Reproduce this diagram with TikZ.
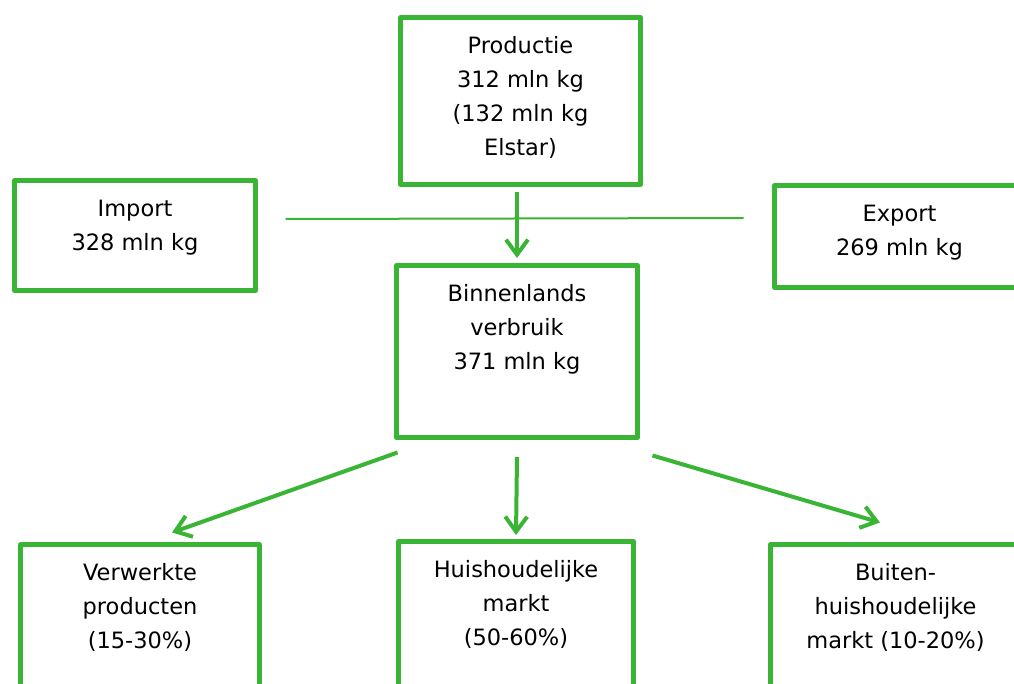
\documentclass[tikz,border=0pt]{standalone}
\usepackage{fontspec}
\setmainfont{DejaVu Sans}
\usetikzlibrary{arrows.meta,positioning}
\definecolor{appelgroen}{RGB}{58,180,52}
\tikzset{
  box/.style={draw=appelgroen, line width=5pt, line join=round, minimum width=240pt, minimum height=110pt, inner sep=0pt},
  txt/.style={align=center, inner sep=0pt, font=\fontsize{22.5}{34}\selectfont},
  pijl/.style={draw=appelgroen, line width=4pt, -{Straight Barb[length=15pt,width=22pt]}},
}
\begin{document}
\begin{tikzpicture}[x=1pt,y=-1pt]
\useasboundingbox (0,0) rectangle (1014,684);
\clip (0,0) rectangle (1014,684);

% bovenste rij
\node[box, minimum height=167pt] (prod) at (520.5,101) {};
\node[txt, below=21.5pt of prod.north] (prodtxt) {Productie\\312 mln kg\\(132 mln kg\\Elstar)};
\node[box, minimum width=241pt] (imp) at (135,235.5) {};
\node[txt, below=21.5pt of imp.north] (imptxt) {Import\\328 mln kg};
\node[box, minimum width=250pt, minimum height=102pt] (exp) at (899.5,236.5) {};
\node[txt, below=21.5pt of exp.north] (exptxt) {Export\\269 mln kg};

% midden
\node[box, minimum width=241pt, minimum height=172pt] (bin) at (517,351.5) {};
\node[txt, below=21.5pt of bin.north] (bintxt) {Binnenlands\\verbruik\\371 mln kg};

% onderste rij (loopt door onder de rand)
\node[box, minimum width=239pt, minimum height=200pt] (verw) at (140,644.5) {};
\node[txt, below=21pt of verw.north] (verwtxt) {Verwerkte\\producten\\(15-30\%)};
\node[box, minimum width=235pt, minimum height=200pt] (huis) at (516,641.5) {};
\node[txt, below=21pt of huis.north] (huistxt) {Huishoudelijke\\markt\\(50-60\%)};
\node[box, minimum width=250pt, minimum height=200pt] (buit) at (895.5,644.5) {};
\node[txt, below=21pt of buit.north] (buittxt) {Buiten-\\huishoudelijke\\markt (10-20\%)};

% verbindingen
\draw[appelgroen, line width=2pt] ([xshift=27.5pt,yshift=16.5pt]imp.east) -- ([xshift=-28.5pt,yshift=18.5pt]exp.west);
\draw[pijl] ([yshift=-5pt]prod.south -| bin.north) -- ([yshift=5pt]bin.north);
\draw[pijl] ([xshift=3.5pt,yshift=-12.5pt]bin.south west) -- ([xshift=32pt,yshift=9.5pt]verw.north);
\draw[pijl] ([yshift=-17pt]bin.south) -- ([yshift=4pt]huis.north);
\draw[pijl] ([xshift=12.5pt,yshift=-15.5pt]bin.south east) -- ([xshift=-15.5pt,yshift=19.5pt]buit.north);
\end{tikzpicture}
\end{document}
